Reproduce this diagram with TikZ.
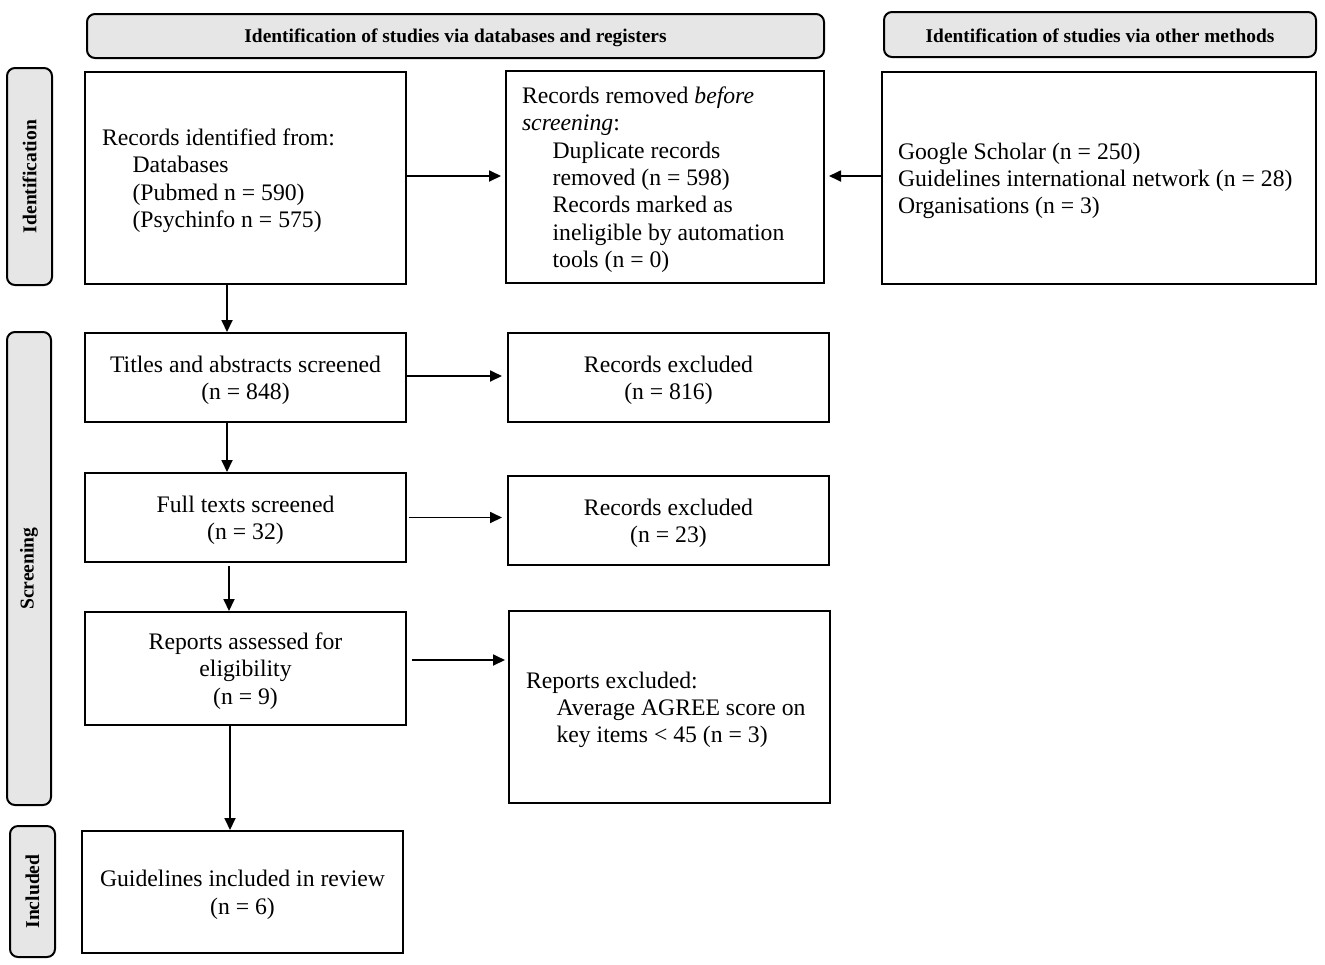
\documentclass[tikz,border=0pt]{standalone}
\usepackage{fontspec}
\setmainfont{Liberation Serif}
\usetikzlibrary{arrows.meta,calc}
\definecolor{hdrgray}{RGB}{230,230,230}
\tikzset{
  box/.style={draw=black, line width=1pt, rectangle, inner sep=0pt, align=center,
    font=\fontsize{11.85}{13.7}\selectfont},
  lbox/.style={box, align=flush left},
  hdr/.style={draw=black, line width=1pt, fill=hdrgray, rounded corners=4pt, inner sep=0pt,
    font=\fontsize{9.7}{11}\selectfont\bfseries},
  side/.style={hdr, rotate=90, font=\fontsize{9.8}{11}\selectfont\bfseries},
  arr/.style={line width=0.9pt, -{Triangle[length=6pt,width=5.5pt]}},
}
\newcommand{\ind}{\hspace*{15.3pt}}
\newcommand{\toppad}{\rule{0pt}{11pt}}
\newcommand{\hdrpad}{\rule{0pt}{8.6pt}}
\begin{document}
\begin{tikzpicture}[x=0.5pt,y=-0.5pt]
\useasboundingbox (0,0) rectangle (1325,964);
% headers
\node[hdr, minimum width=368.5pt, minimum height=22pt] (H1) at (455.5,36) {\hdrpad Identification of studies via databases and registers};
\node[hdr, minimum width=216pt, minimum height=22.5pt] (H2) at (1100,34.5) {\hdrpad Identification of studies via other methods};
% side labels
\node[side, minimum width=108.5pt, minimum height=22.5pt] (S1) at (29.5,176.5) {Identification};
\node[side, minimum width=236.5pt, minimum height=22pt] (S2) at (29,568.5) {Screening};
\node[side, minimum width=65.5pt, minimum height=22.5pt] (S3) at (32.5,891.5) {Included};
% boxes
\node[lbox, inner xsep=8.5pt, text width=143.5pt, minimum height=106pt] (A) at (245.5,178)
  {\toppad Records identified from:\\ \ind Databases\\ \ind (Pubmed n = 590)\\ \ind (Psychinfo n = 575)};
\node[lbox, inner xsep=8pt, text width=143pt, minimum height=106pt] (B) at (665,177)
  {\toppad Records removed \textit{before}\\ \textit{screening}:\\ \ind Duplicate records\\ \ind removed (n = 598)\\ \ind Records marked as\\ \ind ineligible by automation\\ \ind tools (n = 0)};
\node[lbox, inner xsep=8pt, text width=201pt, minimum height=106pt] (C) at (1099,178)
  {\toppad Google Scholar (n = 250)\\ Guidelines international network (n = 28)\\ Organisations (n = 3)};
\node[box, minimum width=160.5pt, minimum height=44.5pt] (D) at (245.5,377.5)
  {\toppad Titles and abstracts screened\\ (n = 848)};
\node[box, minimum width=160.5pt, minimum height=44.5pt] (E) at (668.5,377.5)
  {\toppad Records excluded\\ (n = 816)};
\node[box, minimum width=160.5pt, minimum height=44.5pt] (F) at (245.5,517.5)
  {\toppad Full texts screened\\ (n = 32)};
\node[box, minimum width=160.5pt, minimum height=44.5pt] (G) at (668.5,520.5)
  {\toppad Records excluded\\ (n = 23)};
\node[box, minimum width=160.5pt, minimum height=56.5pt] (H) at (245.5,668.5)
  {\toppad Reports assessed for\\ eligibility\\ (n = 9)};
\node[lbox, inner xsep=8.5pt, text width=143.5pt, minimum height=96pt] (I) at (669.5,707)
  {\toppad Reports excluded:\\ \ind Average AGREE score on\\ \ind key items < 45 (n = 3)};
\node[box, minimum width=160.5pt, minimum height=61pt] (J) at (242.5,892)
  {\toppad Guidelines included in review\\ (n = 6)};
% connectors
\draw[arr, shorten >=2pt] ([yshift=1pt]A.east) -- ([yshift=1pt]A.east -| B.west);
\draw[arr, shorten >=2pt] ([yshift=1pt]C.west) -- ([yshift=1pt]C.west -| B.east);
\draw[arr] ([xshift=-9.25pt]A.south) -- ([xshift=-9.25pt]A.south |- D.north);
\draw[arr, shorten >=2.5pt] ([yshift=0.75pt]D.east) -- ([yshift=0.75pt]D.east -| E.west);
\draw[arr] ([xshift=-9.25pt]D.south) -- ([xshift=-9.25pt]D.south |- F.north);
\draw[arr, shorten >=2.5pt, shorten <=1pt] (F.east) -- (F.east -| G.west);
\draw[arr, shorten <=1.5pt] ([xshift=-8.25pt]F.south) -- ([xshift=-8.25pt]F.south |- H.north);
\draw[arr, shorten >=1.5pt, shorten <=2.5pt] ([yshift=4.25pt]H.east) -- ([yshift=4.25pt]H.east -| I.west);
\draw[arr] ([xshift=-7.75pt]H.south) -- ([xshift=-7.75pt]H.south |- J.north);
\end{tikzpicture}
\end{document}
